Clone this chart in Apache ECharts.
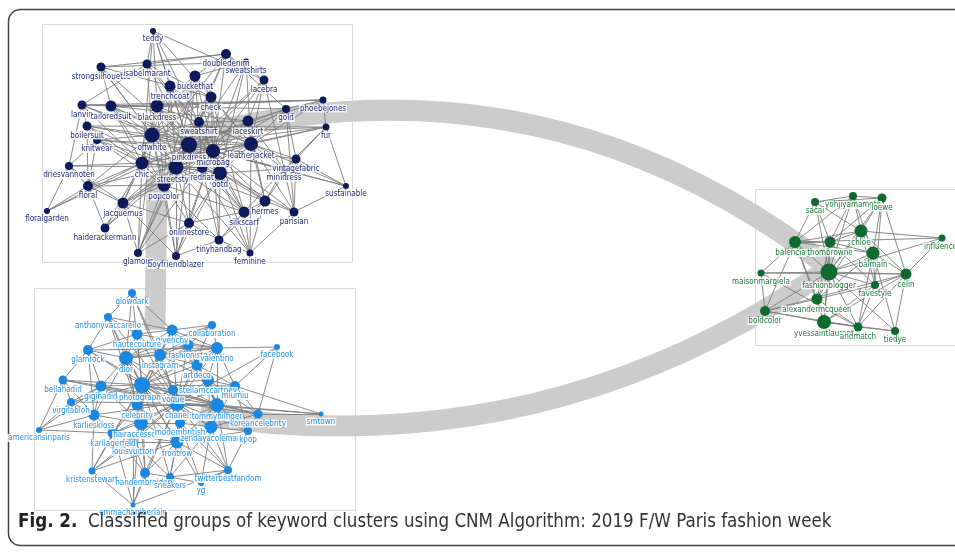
<!DOCTYPE html>
<html>
<head>
<meta charset="utf-8">
<script src="https://cdn.jsdelivr.net/npm/echarts@6/dist/echarts.min.js"></script>
<style>
  html, body { margin: 0; padding: 0; background: #fff; }
  #chart { width: 955px; height: 553px; }
</style>
</head>
<body>
<div id="chart"></div>
<script>
// nodes: [name, x, y, size]
const navyNodes = [
  ['teddy', 153, 31, 6], ['doubledenim', 226, 54, 10], ['sweatshirts', 246, 62, 7],
  ['strongsilhouette', 101, 67, 9], ['isabelmarant', 147, 64, 9], ['buckethat', 195, 76, 11],
  ['lacebra', 264, 80, 9], ['trenchcoat', 170, 86, 11], ['check', 211, 97, 11],
  ['lanvin', 82, 105, 9], ['tailoredsuit', 111, 106, 11], ['blackdress', 157, 106, 13],
  ['phoebejones', 323, 100, 7], ['gold', 286, 109, 8], ['sweatshirt', 199, 122, 10],
  ['laceskirt', 248, 121, 11], ['boilersuit', 87, 126, 9], ['fur', 326, 127, 7],
  ['offwhite', 152, 135, 15], ['knitwear', 97, 140, 8], ['pinkdress', 189, 145, 16],
  ['microbag', 213, 151, 14], ['leatherjacket', 251, 144, 14], ['chic', 142, 163, 13],
  ['streetstyle', 176, 167, 15], ['redhat', 202, 168, 10], ['ootd', 220, 173, 14],
  ['vintagefabric', 296, 159, 9], ['minidress', 284, 169, 8], ['driesvannoten', 69, 166, 8],
  ['floral', 88, 186, 10], ['popcolor', 164, 185, 13], ['sustainable', 346, 186, 6],
  ['floralgarden', 47, 211, 6], ['jacquemus', 123, 203, 11], ['hermes', 265, 201, 11],
  ['silkscarf', 244, 212, 11], ['parisian', 294, 212, 9], ['haiderackermann', 105, 228, 9],
  ['onlinestore', 189, 223, 10], ['tinyhandbag', 219, 240, 9], ['glamour', 138, 253, 8],
  ['boyfriendblazer', 176, 256, 8], ['feminine', 250, 253, 7]
];

const blueNodes = [
  ['glowdark', 132, 293, 8], ['anthonyvaccarello', 108, 317, 8], ['collaboration', 212, 325, 8],
  ['givenchy', 172, 330, 11], ['hautecouture', 137, 334, 11], ['facebook', 277, 347, 6],
  ['fashionista', 188, 345, 11], ['valentino', 217, 348, 12], ['glamrock', 88, 350, 10],
  ['dior', 126, 358, 14], ['instagram', 160, 355, 12], ['artdeco', 197, 365, 11],
  ['bellahadid', 63, 380, 9], ['gigihadid', 101, 386, 11], ['photography', 142, 385, 16],
  ['vogue', 173, 390, 10], ['stellamccartney', 208, 380, 12], ['miumiu', 235, 386, 10],
  ['virgilabloh', 71, 402, 8], ['celebrity', 137, 405, 11], ['chanel', 177, 403, 16],
  ['tommyhilfiger', 217, 405, 14], ['koreancelebrity', 258, 414, 9], ['smtown', 321, 414, 5],
  ['karlieskloss', 94, 415, 11], ['americansinparis', 39, 430, 6], ['hairaccessories', 141, 423, 14],
  ['karllagerfeld', 113, 433, 11], ['modernbritish', 180, 423, 10], ['zendayacoleman', 211, 427, 13],
  ['kpop', 248, 431, 8], ['louisvuitton', 133, 442, 9], ['frontrow', 177, 442, 13],
  ['kristenstewart', 92, 471, 7], ['handembroidery', 145, 473, 10], ['sneakers', 170, 477, 8],
  ['twitterbestfandom', 228, 470, 8], ['yg', 201, 483, 6], ['emmachamberlain', 133, 505, 5]
];

const greenNodes = [
  ['sacai', 815, 202, 8], ['yohjiyamamoto', 853, 196, 8], ['loewe', 882, 198, 9],
  ['chloe', 861, 231, 13], ['influencer', 942, 238, 7], ['balenciaga', 795, 242, 12],
  ['thombrowne', 830, 242, 11], ['balmain', 873, 253, 13], ['maisonmargiela', 761, 273, 7],
  ['fashionblogger', 829, 272, 17], ['celin', 906, 274, 11], ['favestyle', 875, 285, 8],
  ['alexandermcqueen', 817, 299, 11], ['boldcolor', 765, 311, 10], ['yvessaintlaurent', 824, 322, 14],
  ['andmatch', 858, 327, 9], ['tiedye', 895, 331, 8]
];

// adjacency: [source, [targets]]
const navyEdges = [
  ['teddy', ['isabelmarant', 'trenchcoat', 'check', 'pinkdress', 'microbag', 'lacebra', 'blackdress', 'chic']],
  ['strongsilhouette', ['doubledenim', 'tailoredsuit', 'offwhite', 'pinkdress', 'streetstyle', 'check', 'sweatshirts']],
  ['isabelmarant', ['doubledenim', 'offwhite', 'microbag', 'pinkdress', 'check', 'lanvin', 'sweatshirt']],
  ['doubledenim', ['buckethat', 'pinkdress', 'streetstyle', 'microbag', 'chic', 'lacebra', 'gold']],
  ['sweatshirts', ['pinkdress', 'microbag', 'buckethat', 'leatherjacket', 'ootd']],
  ['buckethat', ['pinkdress', 'offwhite', 'blackdress', 'streetstyle', 'ootd', 'leatherjacket', 'popcolor', 'redhat']],
  ['lacebra', ['pinkdress', 'laceskirt', 'microbag', 'streetstyle', 'minidress', 'leatherjacket']],
  ['trenchcoat', ['pinkdress', 'blackdress', 'offwhite', 'streetstyle', 'microbag', 'ootd', 'leatherjacket', 'popcolor']],
  ['check', ['pinkdress', 'microbag', 'streetstyle', 'ootd', 'offwhite', 'leatherjacket', 'popcolor', 'redhat', 'silkscarf']],
  ['lanvin', ['tailoredsuit', 'offwhite', 'pinkdress', 'chic', 'boilersuit', 'driesvannoten', 'gold', 'phoebejones']],
  ['tailoredsuit', ['blackdress', 'pinkdress', 'offwhite', 'chic', 'streetstyle', 'microbag', 'popcolor', 'laceskirt']],
  ['blackdress', ['pinkdress', 'offwhite', 'microbag', 'streetstyle', 'leatherjacket', 'chic', 'ootd', 'redhat', 'popcolor']],
  ['phoebejones', ['gold', 'pinkdress', 'leatherjacket', 'fur', 'tailoredsuit', 'blackdress']],
  ['gold', ['pinkdress', 'laceskirt', 'leatherjacket', 'microbag', 'vintagefabric', 'parisian']],
  ['sweatshirt', ['pinkdress', 'microbag', 'offwhite', 'streetstyle', 'ootd', 'leatherjacket', 'laceskirt', 'redhat']],
  ['laceskirt', ['pinkdress', 'microbag', 'leatherjacket', 'ootd', 'streetstyle', 'minidress', 'hermes']],
  ['boilersuit', ['offwhite', 'pinkdress', 'chic', 'streetstyle', 'floral', 'knitwear', 'fur']],
  ['fur', ['leatherjacket', 'pinkdress', 'vintagefabric', 'sustainable', 'minidress', 'microbag', 'offwhite']],
  ['offwhite', ['pinkdress', 'microbag', 'streetstyle', 'chic', 'leatherjacket', 'ootd', 'popcolor', 'redhat', 'jacquemus', 'floral', 'knitwear']],
  ['knitwear', ['pinkdress', 'streetstyle', 'chic', 'floral', 'driesvannoten', 'popcolor', 'microbag']],
  ['pinkdress', ['microbag', 'leatherjacket', 'streetstyle', 'chic', 'ootd', 'redhat', 'popcolor', 'minidress', 'vintagefabric', 'hermes', 'silkscarf', 'onlinestore', 'jacquemus']],
  ['microbag', ['leatherjacket', 'streetstyle', 'chic', 'ootd', 'redhat', 'popcolor', 'minidress', 'hermes', 'silkscarf', 'tinyhandbag', 'parisian']],
  ['leatherjacket', ['ootd', 'streetstyle', 'chic', 'redhat', 'minidress', 'vintagefabric', 'hermes', 'parisian', 'feminine', 'sustainable']],
  ['chic', ['streetstyle', 'ootd', 'popcolor', 'floral', 'driesvannoten', 'jacquemus', 'haiderackermann', 'glamour', 'redhat']],
  ['streetstyle', ['ootd', 'redhat', 'popcolor', 'jacquemus', 'onlinestore', 'silkscarf', 'hermes', 'glamour', 'boyfriendblazer', 'floral']],
  ['redhat', ['ootd', 'popcolor', 'silkscarf', 'tinyhandbag']],
  ['ootd', ['popcolor', 'minidress', 'hermes', 'silkscarf', 'tinyhandbag', 'parisian', 'feminine', 'onlinestore']],
  ['vintagefabric', ['minidress', 'sustainable', 'parisian', 'hermes']],
  ['minidress', ['hermes', 'parisian', 'silkscarf']],
  ['driesvannoten', ['floral', 'floralgarden', 'jacquemus', 'streetstyle']],
  ['floral', ['floralgarden', 'jacquemus', 'popcolor', 'haiderackermann']],
  ['popcolor', ['jacquemus', 'onlinestore', 'glamour', 'boyfriendblazer', 'silkscarf', 'tinyhandbag']],
  ['floralgarden', ['chic', 'pinkdress']],
  ['jacquemus', ['haiderackermann', 'onlinestore', 'glamour', 'boyfriendblazer', 'microbag']],
  ['hermes', ['silkscarf', 'parisian', 'feminine', 'tinyhandbag']],
  ['silkscarf', ['tinyhandbag', 'feminine', 'onlinestore']],
  ['parisian', ['sustainable', 'feminine']],
  ['haiderackermann', ['pinkdress', 'streetstyle']],
  ['onlinestore', ['tinyhandbag', 'boyfriendblazer', 'glamour', 'microbag']],
  ['tinyhandbag', ['feminine', 'boyfriendblazer']],
  ['glamour', ['pinkdress', 'microbag', 'offwhite']],
  ['boyfriendblazer', ['pinkdress', 'microbag', 'offwhite', 'ootd']],
  ['feminine', ['pinkdress', 'streetstyle']],
  ['sustainable', ['microbag', 'pinkdress']]
];

const blueEdges = [
  ['glowdark', ['anthonyvaccarello', 'givenchy', 'dior', 'instagram', 'photography', 'chanel']],
  ['anthonyvaccarello', ['hautecouture', 'dior', 'glamrock', 'givenchy', 'photography', 'chanel', 'celebrity']],
  ['collaboration', ['givenchy', 'valentino', 'fashionista', 'dior', 'instagram', 'chanel']],
  ['givenchy', ['hautecouture', 'dior', 'instagram', 'fashionista', 'valentino', 'photography', 'chanel', 'celebrity', 'tommyhilfiger']],
  ['hautecouture', ['dior', 'instagram', 'glamrock', 'photography', 'chanel', 'valentino']],
  ['facebook', ['valentino', 'koreancelebrity', 'miumiu', 'chanel']],
  ['fashionista', ['instagram', 'valentino', 'dior', 'photography', 'chanel', 'tommyhilfiger', 'artdeco']],
  ['valentino', ['instagram', 'dior', 'artdeco', 'photography', 'chanel', 'miumiu', 'stellamccartney', 'tommyhilfiger', 'glamrock']],
  ['glamrock', ['dior', 'bellahadid', 'photography', 'gigihadid', 'karlieskloss', 'chanel']],
  ['dior', ['instagram', 'photography', 'chanel', 'celebrity', 'gigihadid', 'tommyhilfiger', 'hairaccessories', 'karlieskloss', 'frontrow']],
  ['instagram', ['photography', 'chanel', 'artdeco', 'celebrity', 'vogue', 'stellamccartney']],
  ['artdeco', ['chanel', 'stellamccartney', 'photography', 'miumiu', 'tommyhilfiger']],
  ['bellahadid', ['gigihadid', 'photography', 'virgilabloh', 'americansinparis', 'karlieskloss', 'chanel']],
  ['gigihadid', ['photography', 'chanel', 'celebrity', 'karlieskloss', 'virgilabloh', 'hairaccessories', 'tommyhilfiger']],
  ['photography', ['chanel', 'celebrity', 'vogue', 'stellamccartney', 'tommyhilfiger', 'hairaccessories', 'karllagerfeld', 'modernbritish', 'zendayacoleman', 'frontrow', 'miumiu', 'koreancelebrity']],
  ['vogue', ['chanel', 'tommyhilfiger', 'celebrity']],
  ['stellamccartney', ['chanel', 'miumiu', 'tommyhilfiger', 'zendayacoleman', 'koreancelebrity']],
  ['miumiu', ['chanel', 'tommyhilfiger', 'koreancelebrity', 'smtown', 'zendayacoleman', 'kpop']],
  ['virgilabloh', ['karlieskloss', 'americansinparis', 'chanel', 'photography']],
  ['celebrity', ['chanel', 'hairaccessories', 'karllagerfeld', 'frontrow', 'tommyhilfiger']],
  ['chanel', ['tommyhilfiger', 'hairaccessories', 'modernbritish', 'zendayacoleman', 'frontrow', 'koreancelebrity', 'karllagerfeld', 'louisvuitton', 'kpop', 'karlieskloss']],
  ['tommyhilfiger', ['koreancelebrity', 'zendayacoleman', 'kpop', 'frontrow', 'modernbritish', 'smtown']],
  ['koreancelebrity', ['smtown', 'kpop', 'zendayacoleman']],
  ['karlieskloss', ['americansinparis', 'hairaccessories', 'karllagerfeld', 'kristenstewart']],
  ['americansinparis', ['gigihadid', 'karllagerfeld']],
  ['hairaccessories', ['karllagerfeld', 'modernbritish', 'louisvuitton', 'frontrow', 'handembroidery']],
  ['karllagerfeld', ['louisvuitton', 'kristenstewart', 'handembroidery', 'frontrow']],
  ['modernbritish', ['frontrow', 'zendayacoleman', 'sneakers', 'yg']],
  ['zendayacoleman', ['kpop', 'frontrow', 'twitterbestfandom', 'yg', 'sneakers']],
  ['kpop', ['twitterbestfandom', 'frontrow']],
  ['louisvuitton', ['kristenstewart', 'handembroidery', 'sneakers', 'emmachamberlain', 'frontrow']],
  ['frontrow', ['handembroidery', 'sneakers', 'twitterbestfandom', 'yg', 'kristenstewart']],
  ['kristenstewart', ['emmachamberlain', 'photography', 'chanel']],
  ['handembroidery', ['emmachamberlain', 'sneakers', 'chanel', 'photography']],
  ['sneakers', ['yg', 'twitterbestfandom', 'photography']],
  ['twitterbestfandom', ['yg', 'chanel', 'tommyhilfiger', 'photography']],
  ['emmachamberlain', ['karllagerfeld', 'chanel', 'twitterbestfandom', 'photography']],
  ['smtown', ['chanel']]
];

const greenEdges = [
  ['sacai', ['yohjiyamamoto', 'balenciaga', 'thombrowne', 'fashionblogger', 'chloe', 'loewe']],
  ['yohjiyamamoto', ['loewe', 'chloe', 'balenciaga', 'thombrowne', 'fashionblogger', 'balmain']],
  ['loewe', ['chloe', 'balmain', 'fashionblogger', 'celin', 'thombrowne', 'favestyle']],
  ['chloe', ['balenciaga', 'thombrowne', 'balmain', 'fashionblogger', 'influencer', 'celin', 'favestyle', 'alexandermcqueen']],
  ['influencer', ['balenciaga', 'celin', 'fashionblogger']],
  ['balenciaga', ['thombrowne', 'fashionblogger', 'maisonmargiela', 'alexandermcqueen', 'balmain', 'boldcolor', 'yvessaintlaurent']],
  ['thombrowne', ['fashionblogger', 'balmain', 'alexandermcqueen', 'yvessaintlaurent', 'favestyle']],
  ['balmain', ['fashionblogger', 'favestyle', 'celin', 'andmatch', 'tiedye', 'alexandermcqueen']],
  ['maisonmargiela', ['fashionblogger', 'celin', 'boldcolor', 'andmatch']],
  ['fashionblogger', ['alexandermcqueen', 'yvessaintlaurent', 'favestyle', 'celin', 'boldcolor', 'andmatch', 'tiedye']],
  ['celin', ['favestyle', 'tiedye', 'andmatch', 'boldcolor', 'yvessaintlaurent']],
  ['favestyle', ['andmatch', 'yvessaintlaurent', 'alexandermcqueen']],
  ['alexandermcqueen', ['boldcolor', 'yvessaintlaurent', 'andmatch']],
  ['boldcolor', ['yvessaintlaurent', 'andmatch']],
  ['yvessaintlaurent', ['andmatch', 'tiedye']],
  ['andmatch', ['tiedye']]
];

// group-level links between clusters: anchors [name, x, y] and links [source, target, curveness]
const groupAnchors = [['navy', 180, 140], ['navyLow', 157, 175], ['blue', 155, 330], ['blueRight', 200, 415], ['green', 830, 268]];
const groupLinks = [['navy', 'green', 0.25], ['navyLow', 'blue', 0], ['blueRight', 'green', -0.2]];

const FONT = '"Liberation Sans Narrow", "DejaVu Sans Condensed", Arial, sans-serif';

function buildSeries(nodes, edges, color, labelColor) {
  const names = new Set(nodes.map(n => n[0]));
  const links = [];
  edges.forEach(e => {
    e[1].forEach(t => {
      if (names.has(e[0]) && names.has(t)) links.push({ source: e[0], target: t });
    });
  });
  return {
    type: 'graph',
    coordinateSystem: 'cartesian2d',
    z: 3,
    data: nodes.map(n => ({ name: n[0], value: [n[1], n[2]], symbolSize: n[3] })),
    links: links,
    itemStyle: { color: color },
    lineStyle: { color: '#7d7d7d', width: 1, opacity: 0.9 },
    label: {
      show: true,
      position: 'bottom',
      distance: 1,
      fontSize: 8,
      fontFamily: FONT,
      color: labelColor,
      backgroundColor: 'rgba(255,255,255,0.85)',
      padding: [0, 1]
    },
    emphasis: { disabled: true },
    silent: true
  };
}

const chart = echarts.init(document.getElementById('chart'));
chart.setOption({
  animation: false,
  grid: { left: 0, right: 0, top: 0, bottom: 0 },
  xAxis: { type: 'value', min: 0, max: 955, show: false },
  yAxis: { type: 'value', min: 0, max: 553, inverse: true, show: false },
  graphic: [
    { type: 'rect', z: -1, shape: { x: 8.5, y: 9.5, width: 1000, height: 536, r: 12 },
      style: { fill: 'none', stroke: '#444', lineWidth: 1.5 } },
    { type: 'rect', z: -1, shape: { x: 42.5, y: 24.5, width: 310, height: 238 },
      style: { fill: 'none', stroke: '#d9d9d9', lineWidth: 1 } },
    { type: 'rect', z: -1, shape: { x: 34.5, y: 288.5, width: 321, height: 222 },
      style: { fill: 'none', stroke: '#d9d9d9', lineWidth: 1 } },
    { type: 'rect', z: -1, shape: { x: 755.5, y: 189.5, width: 240, height: 156 },
      style: { fill: 'none', stroke: '#d9d9d9', lineWidth: 1 } },
    { type: 'text', left: 18, top: 513, z: 10,
      style: {
        text: '{b|Fig. 2.}  Classified groups of keyword clusters using CNM Algorithm: 2019 F/W Paris fashion week',
        font: '18.6px ' + FONT, fill: '#333',
        rich: { b: { fontWeight: 'bold', fontSize: 18.6, fontFamily: FONT, fill: '#222' } }
      } }
  ],
  series: [
    {
      type: 'graph',
      coordinateSystem: 'cartesian2d',
      z: 1,
      silent: true,
      symbolSize: 0,
      data: groupAnchors.map(a => ({ name: a[0], value: [a[1], a[2]] })),
      links: groupLinks.map(l => ({ source: l[0], target: l[1], lineStyle: { curveness: l[2] } })),
      lineStyle: { color: '#cccccc', width: 21, opacity: 1 },
      label: { show: false }
    },
    buildSeries(navyNodes, navyEdges, '#0d1a5c', '#1d2b78'),
    buildSeries(blueNodes, blueEdges, '#1a88e0', '#2193ee'),
    buildSeries(greenNodes, greenEdges, '#0f6a2f', '#1c7a3c')
  ]
});
</script>
</body>
</html>
